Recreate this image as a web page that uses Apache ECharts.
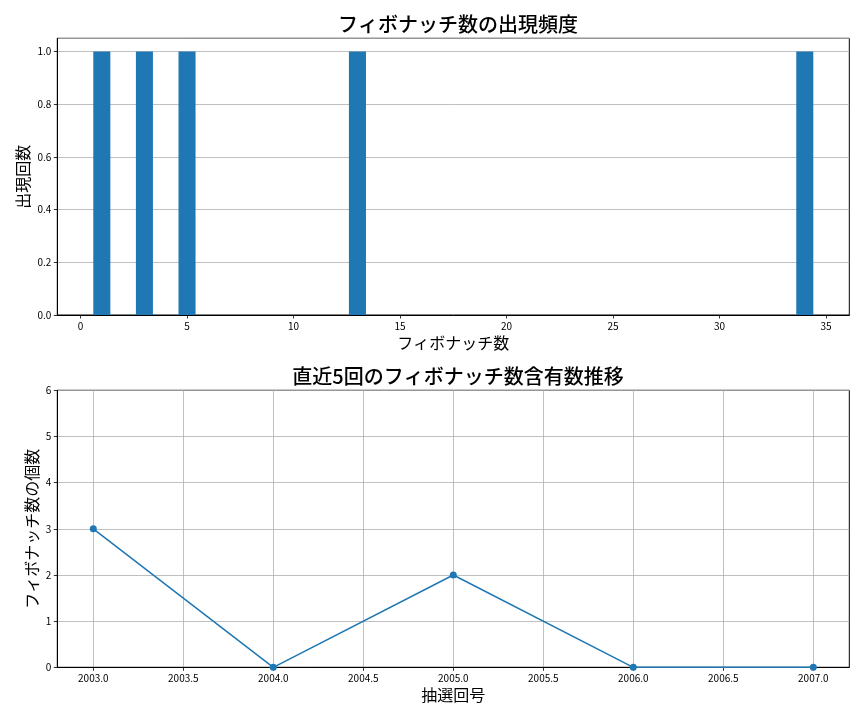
<!DOCTYPE html>
<html>
<head>
<meta charset="utf-8">
<script src="https://cdn.jsdelivr.net/npm/echarts@6/dist/echarts.min.js"></script>
<style>
html,body{margin:0;padding:0;background:#fff;}
#c{width:864px;height:720px;}
</style>
</head>
<body>
<div id="c"></div>
<script>
// Top chart: Fibonacci numbers and occurrence counts
const fibNumbers = [1, 3, 5, 13, 34];
const fibCounts = [1, 1, 1, 1, 1];
const topXTicks = [0, 5, 10, 15, 20, 25, 30, 35];

// Bottom chart: recent 5 draws
const drawNumbers = [2003, 2004, 2005, 2006, 2007];
const fibPerDraw = [3, 0, 2, 0, 0];
const bottomXTicks = [2003.0, 2003.5, 2004.0, 2004.5, 2005.0, 2005.5, 2006.0, 2006.5, 2007.0];

const FONT = '"Noto Sans CJK JP", "Noto Sans", sans-serif';
const BLUE = '#1f77b4';
const GRIDC = '#b0b0b0';

const barHalf = 0.4;

const chart = echarts.init(document.getElementById('c'), null, {renderer: 'canvas'});

const axisCommon = {
  axisLine: {show: true, onZero: false, lineStyle: {color: '#000', width: 1}},
  axisTick: {show: true, inside: false, length: 3.5, lineStyle: {color: '#000', width: 0.8}},
  axisLabel: {color: '#000', fontFamily: FONT, fontSize: 10, margin: 6},
  nameTextStyle: {color: '#000', fontFamily: FONT, fontSize: 16},
  nameMoveOverlap: false
};

chart.setOption({
  animation: false,
  backgroundColor: '#fff',
  title: [
    {text: 'フィボナッチ数の出現頻度', left: 453, top: 9, textAlign: 'center',
     textStyle: {fontFamily: FONT, fontSize: 20, fontWeight: 500, color: '#000'}},
    {text: '直近5回のフィボナッチ数含有数推移', left: 453, top: 361, textAlign: 'center',
     textStyle: {fontFamily: FONT, fontSize: 20, fontWeight: 500, color: '#000'}}
  ],
  grid: [
    {left: 57.3, right: 14.7, top: 38.3, height: 276.7, show: true, borderColor: '#000', borderWidth: 1, backgroundColor: 'transparent'},
    {left: 57.3, right: 14.7, top: 390.3, height: 277, show: true, borderColor: '#000', borderWidth: 1, backgroundColor: 'transparent'}
  ],
  xAxis: [
    Object.assign({}, axisCommon, {
      gridIndex: 0, type: 'value', min: -1.09, max: 36.09,
      name: 'フィボナッチ数', nameLocation: 'middle', nameGap: 20,
      axisTick: Object.assign({}, axisCommon.axisTick, {customValues: topXTicks}),
      axisLabel: Object.assign({}, axisCommon.axisLabel, {customValues: topXTicks}),
      splitLine: {show: false}
    }),
    Object.assign({}, axisCommon, {
      gridIndex: 1, type: 'value', min: 2002.8, max: 2007.2,
      name: '抽選回号', nameLocation: 'middle', nameGap: 20,
      axisTick: Object.assign({}, axisCommon.axisTick, {customValues: bottomXTicks}),
      axisLabel: Object.assign({}, axisCommon.axisLabel, {customValues: bottomXTicks,
        formatter: function (v) { return v.toFixed(1); }}),
      splitLine: {show: true, lineStyle: {color: GRIDC, width: 0.8}}
    })
  ],
  yAxis: [
    Object.assign({}, axisCommon, {
      gridIndex: 0, type: 'value', min: 0, max: 1.05, interval: 0.2,
      name: '出現回数', nameLocation: 'middle', nameGap: 26,
      axisLabel: Object.assign({}, axisCommon.axisLabel, {showMaxLabel: false,
        formatter: function (v) { return v.toFixed(1); }}),
      splitLine: {show: true, lineStyle: {color: GRIDC, width: 0.8}}
    }),
    Object.assign({}, axisCommon, {
      gridIndex: 1, type: 'value', min: 0, max: 6, interval: 1,
      name: 'フィボナッチ数の個数', nameLocation: 'middle', nameGap: 17,
      splitLine: {show: true, lineStyle: {color: GRIDC, width: 0.8}}
    })
  ],
  series: [
    {
      type: 'custom', xAxisIndex: 0, yAxisIndex: 0,
      data: fibNumbers.map(function (x, i) { return [x, fibCounts[i]]; }),
      renderItem: function (params, api) {
        const x = api.value(0), y = api.value(1);
        const p0 = api.coord([x - barHalf, y]);
        const p1 = api.coord([x + barHalf, 0]);
        return {type: 'rect', shape: {x: p0[0], y: p0[1], width: p1[0] - p0[0], height: p1[1] - p0[1]},
                style: {fill: BLUE}};
      }
    },
    {
      type: 'line', xAxisIndex: 1, yAxisIndex: 1,
      data: drawNumbers.map(function (x, i) { return [x, fibPerDraw[i]]; }),
      symbol: 'circle', symbolSize: 7, clip: true,
      lineStyle: {color: BLUE, width: 1.5},
      itemStyle: {color: BLUE}
    }
  ]
});
</script>
</body>
</html>
